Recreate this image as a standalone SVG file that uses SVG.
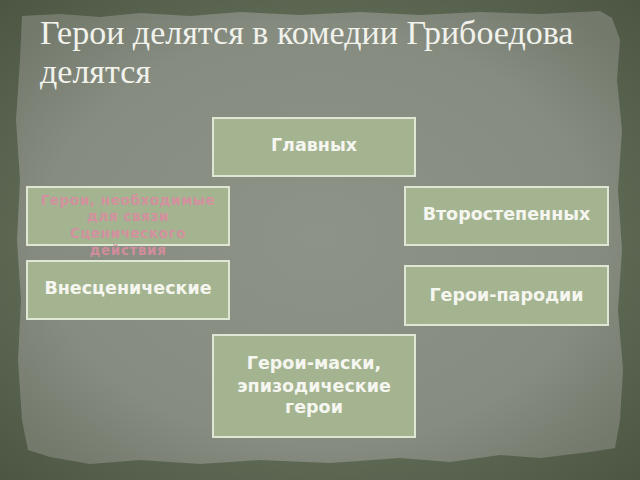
<svg xmlns="http://www.w3.org/2000/svg" width="640" height="480" viewBox="0 0 640 480">
<defs>
<radialGradient id="paper" cx="50%" cy="50%" r="65%">
<stop offset="0" stop-color="#8d9387"/>
<stop offset="0.7" stop-color="#868c80"/>
<stop offset="1" stop-color="#737a6c"/>
</radialGradient>
<radialGradient id="frame" cx="50%" cy="50%" r="70%">
<stop offset="0.6" stop-color="#606b56"/>
<stop offset="1" stop-color="#4c5643"/>
</radialGradient>
<style>
.box{fill:#a4b490;stroke:#dfe6d3;stroke-width:2}
.lbl{font-family:"DejaVu Sans",Verdana,sans-serif;font-weight:bold;font-size:17.5px;fill:#f6f6f0;text-anchor:middle}
.pink{font-family:"DejaVu Sans",Verdana,sans-serif;font-weight:bold;font-size:13.5px;fill:#d98da0;text-anchor:middle;letter-spacing:0.6px;opacity:0.9}
.title{font-family:"Liberation Serif","DejaVu Serif",serif;font-size:34px;fill:#f2f2ec}
</style>
</defs>
<rect x="0" y="0" width="640" height="480" fill="url(#frame)"/>
<path d="M22,16 L60,14 L100,17 L140,13 L190,16 L240,12 L300,15 L360,12 L420,15 L480,12 L540,14 L600,11 L612,18 L620,40 L617,80 L622,130 L618,190 L622,250 L618,310 L623,370 L620,420 L615,448 L590,452 L540,458 L500,455 L450,462 L400,458 L330,463 L260,460 L200,464 L140,460 L90,464 L50,457 L28,450 L22,420 L18,360 L21,300 L17,240 L20,180 L16,120 L20,60 Z" fill="url(#paper)"/>
<g id="title">
<text class="title" x="40" y="44">Герои делятся в комедии Грибоедова</text>
<text class="title" x="40" y="83">делятся</text>
</g>
<g id="connectors"></g>
<g id="n1"><rect class="box" x="213" y="118" width="202" height="58"/><text class="lbl" x="314" y="151">Главных</text></g>
<g id="n2"><rect class="box" x="405" y="187" width="203" height="58"/><text class="lbl" x="506.5" y="220">Второстепенных</text></g>
<g id="n3"><rect class="box" x="27" y="187" width="202" height="58"/>
<text class="pink" x="128" y="205">Герои, необходимые</text>
<text class="pink" x="128" y="221">для связи</text>
<text class="pink" x="128" y="238">Сценического</text>
<text class="pink" x="128" y="255">действия</text></g>
<g id="n4"><rect class="box" x="27" y="261" width="202" height="58"/><text class="lbl" x="128" y="294">Внесценические</text></g>
<g id="n5"><rect class="box" x="405" y="266" width="203" height="59"/><text class="lbl" x="506.5" y="301">Герои-пародии</text></g>
<g id="n6"><rect class="box" x="213" y="335" width="202" height="102"/>
<text class="lbl" x="314" y="369">Герои-маски,</text>
<text class="lbl" x="314" y="392">эпизодические</text>
<text class="lbl" x="314" y="413">герои</text></g>
</svg>
